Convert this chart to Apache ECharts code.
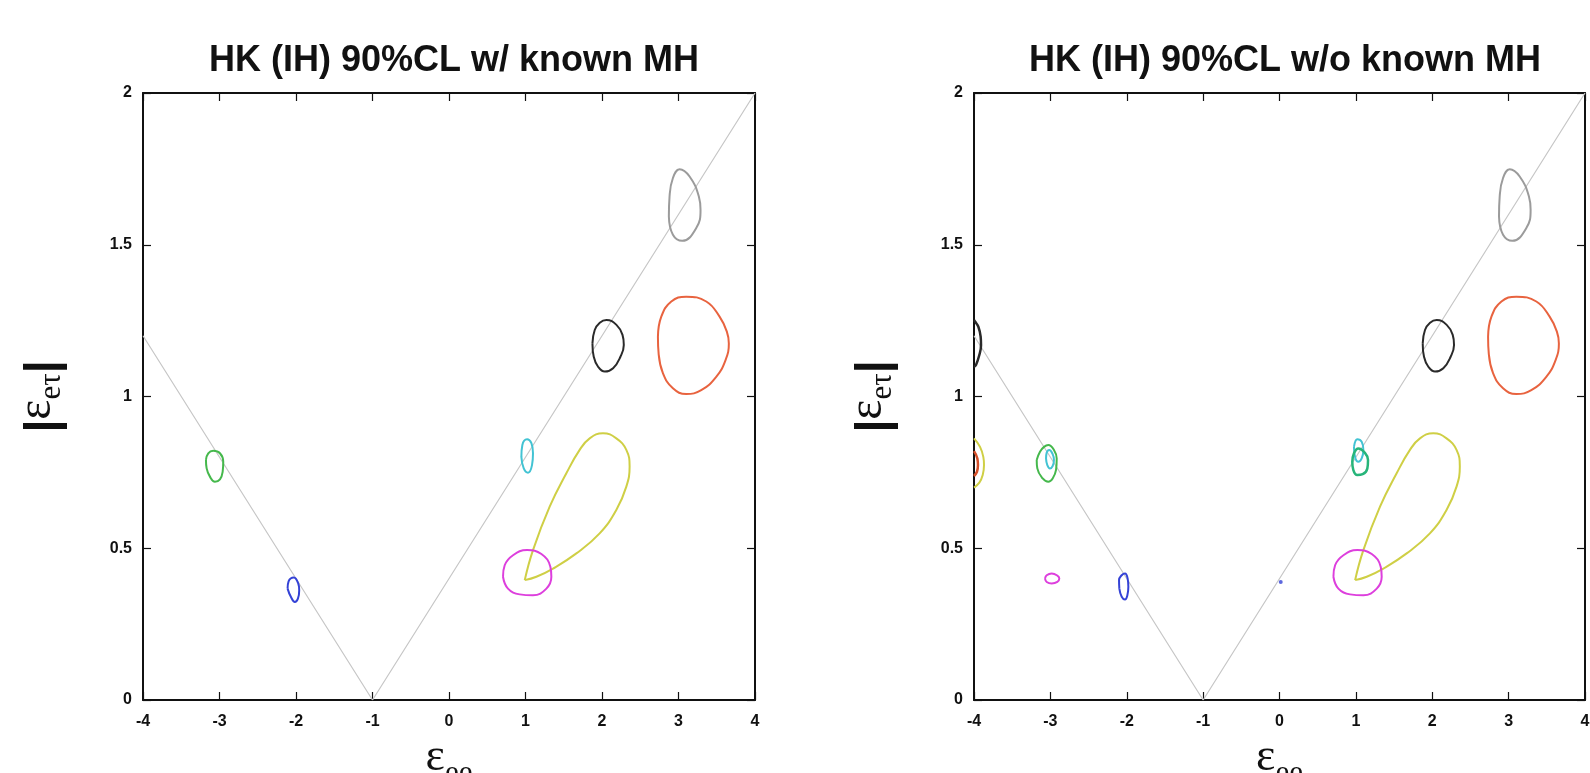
<!DOCTYPE html>
<html>
<head>
<meta charset="utf-8">
<script src="https://cdn.jsdelivr.net/npm/echarts@6/dist/echarts.min.js"></script>
<style>html,body{margin:0;padding:0;background:#fff;}#c{width:1590px;height:773px;}</style>
</head>
<body>
<div id="c"></div>
<script>
// ---- tick labels ----
const xTicks = [-4, -3, -2, -1, 0, 1, 2, 3, 4];
const yTicks = [0, 0.5, 1, 1.5, 2];
const titles = ['HK (IH) 90%CL w/ known MH', 'HK (IH) 90%CL w/o known MH'];

// ---- guide line |e_et| = 0.4|e_ee+1| ----
const vLine = [[-4, 1.2], [-1, 0], [4, 2]];

// ---- contours (both panels) ----
const grayC = [[2.874,1.593],[2.883,1.659],[2.927,1.720],[3.014,1.749],[3.145,1.725],[3.266,1.659],[3.288,1.615],[3.232,1.555],[3.049,1.513],[2.927,1.533]];
const redC = [[2.731,1.197],[2.775,1.263],[2.906,1.313],[3.101,1.329],[3.363,1.313],[3.537,1.263],[3.632,1.214],[3.658,1.175],[3.615,1.120],[3.493,1.065],[3.297,1.021],[3.101,1.008],[2.927,1.027],[2.796,1.077],[2.740,1.142]];
const blackC = [[1.875,1.175],[1.905,1.219],[1.971,1.243],[2.058,1.252],[2.189,1.236],[2.268,1.203],[2.285,1.170],[2.241,1.131],[2.145,1.093],[2.036,1.082],[1.949,1.098],[1.892,1.131]];
const yellowC = [[0.99,0.395],[1.098,0.494],[1.316,0.637],[1.534,0.747],[1.708,0.824],[1.839,0.862],[2.013,0.879],[2.187,0.862],[2.318,0.824],[2.361,0.769],[2.318,0.703],[2.187,0.626],[1.969,0.549],[1.665,0.483],[1.36,0.433],[1.142,0.406]];
const magentaC = [[0.706,0.406],[0.728,0.444],[0.837,0.477],[1.020,0.494],[1.208,0.481],[1.325,0.439],[1.338,0.406],[1.273,0.367],[1.098,0.345],[0.924,0.348],[0.771,0.367]];
// left panel only
const cyanL = [[0.946,0.801],[0.959,0.840],[1.020,0.859],[1.077,0.846],[1.098,0.813],[1.085,0.774],[1.033,0.749],[0.977,0.763]];
const greenL = [[-3.177,0.791],[-3.147,0.813],[-3.082,0.821],[-2.994,0.813],[-2.951,0.785],[-2.959,0.752],[-2.994,0.727],[-3.060,0.719],[-3.125,0.736],[-3.168,0.763]];
const blueL = [[-2.110,0.367],[-2.097,0.391],[-2.028,0.404],[-1.971,0.384],[-1.958,0.362],[-1.975,0.334],[-2.015,0.323],[-2.067,0.340]];
// right panel only
const greenR = [[-3.179,0.791],[-3.136,0.818],[-3.083,0.834],[-3.027,0.840],[-2.953,0.824],[-2.917,0.796],[-2.926,0.758],[-2.970,0.730],[-3.027,0.719],[-3.101,0.730],[-3.171,0.763]];
const cyanR1 = [[-3.057,0.796],[-3.048,0.815],[-3.014,0.824],[-2.970,0.810],[-2.953,0.791],[-2.970,0.771],[-3.005,0.763],[-3.040,0.774]];
const magentaR1 = [[-3.070,0.400],[-3.048,0.411],[-2.983,0.417],[-2.909,0.410],[-2.883,0.400],[-2.909,0.389],[-2.983,0.384],[-3.048,0.389]];
const blueR = [[-2.097,0.367],[-2.101,0.395],[-2.066,0.411],[-2.023,0.417],[-1.988,0.400],[-1.979,0.373],[-1.992,0.345],[-2.023,0.331],[-2.066,0.340]];
const blackEdgeR = [[-4,1.252],[-3.987,1.247],[-3.943,1.230],[-3.913,1.197],[-3.908,1.170],[-3.930,1.137],[-3.974,1.104],[-4,1.098]];
const yellowEdgeR = [[-4,0.862],[-3.921,0.834],[-3.878,0.801],[-3.869,0.774],[-3.886,0.741],[-3.930,0.716],[-4,0.700]];
const redEdgeR = [[-4,0.820],[-3.956,0.796],[-3.948,0.774],[-3.961,0.752],[-4,0.738]];
const cyanR2 = [[0.975,0.834],[1.019,0.859],[1.076,0.851],[1.098,0.824],[1.076,0.796],[1.032,0.785],[0.989,0.801]];
const tealR2 = [[0.953,0.785],[0.975,0.813],[1.032,0.829],[1.106,0.818],[1.159,0.791],[1.150,0.763],[1.089,0.744],[1.019,0.741],[0.966,0.758]];
const blueDotR = [[0.016, 0.389]];

const COL = {gray:'#9b9b9b', red:'#e8633f', black:'#2a2a2a', yellow:'#cfcf45', magenta:'#dd3fdd', cyan:'#42c3d3', green:'#45b84c', blue:'#3442d6', teal:'#27b57a', guide:'#c6c6c6'};

const FONT = 'Liberation Sans, Arial, Helvetica, sans-serif';
const SERIF = 'Liberation Serif, DejaVu Serif, serif';

function closed(a){ return a.concat([a[0]]); }

const grids = [
  {left:143, top:93, width:612, height:607, containLabel:false, outerBoundsMode:'none'},
  {left:974, top:93, width:611, height:607, containLabel:false, outerBoundsMode:'none'}
];

const xAxes = [], yAxes = [];
grids.forEach((g, gi) => {
  ['bottom','top'].forEach((pos) => {
    xAxes.push({
      type:'value', gridIndex:gi, position:pos,
      min:xTicks[0], max:xTicks[xTicks.length-1], interval:1,
      axisLine:{show:true, onZero:false, lineStyle:{color:'#111', width:2}},
      axisTick:{show:true, inside:true, length:8, lineStyle:{color:'#111', width:1.2}},
      axisLabel:{show:pos==='bottom', color:'#111', fontFamily:FONT, fontWeight:'bold', fontSize:16, margin:14, showMinLabel:true, showMaxLabel:true, hideOverlap:false},
      splitLine:{show:false},
      name: pos==='bottom' ? '{a|ε}{b|ee}' : '',
      nameLocation:'middle', nameGap:35,
      nameTextStyle:{rich:{
        a:{fontFamily:SERIF, fontSize:46, color:'#111', verticalAlign:'bottom', padding:[0,0,8,0]},
        b:{fontFamily:SERIF, fontSize:31, color:'#111', verticalAlign:'bottom'}
      }}
    });
  });
  ['left','right'].forEach((pos) => {
    yAxes.push({
      type:'value', gridIndex:gi, position:pos,
      min:yTicks[0], max:yTicks[yTicks.length-1], interval:0.5,
      axisLine:{show:true, onZero:false, lineStyle:{color:'#111', width:2}},
      axisTick:{show:true, inside:true, length:8, lineStyle:{color:'#111', width:1.2}},
      axisLabel:{show:pos==='left', color:'#111', fontFamily:FONT, fontWeight:'bold', fontSize:16, margin:11, showMinLabel:true, showMaxLabel:true, hideOverlap:false},
      splitLine:{show:false},
      name: pos==='left' ? '{p||}{a|ε}{b|eτ}{p||}' : '',
      nameLocation:'middle', nameGap:76,
      nameTextStyle:{rich:{
        p:{fontFamily:FONT, fontSize:46, fontWeight:'bold', color:'#111', verticalAlign:'bottom'},
        a:{fontFamily:SERIF, fontSize:48, color:'#111', verticalAlign:'bottom', padding:[0,0,6,0]},
        b:{fontFamily:SERIF, fontSize:31, color:'#111', verticalAlign:'bottom'}
      }}
    });
  });
});

const series = [];
function contour(data, color, gi, isClosed, w){
  series.push({
    type:'line', xAxisIndex:gi*2, yAxisIndex:gi*2,
    data: isClosed ? closed(data) : data,
    smooth:0.45, symbol:'none', clip:true, silent:true,
    lineStyle:{color:color, width:w||2}, z:3
  });
}
[0,1].forEach(gi => {
  series.push({type:'line', xAxisIndex:gi*2, yAxisIndex:gi*2, data:vLine, symbol:'none', clip:true, silent:true, lineStyle:{color:COL.guide, width:1.2}, z:2});
  contour(grayC, COL.gray, gi, true);
  contour(redC, COL.red, gi, true);
  contour(blackC, COL.black, gi, true);
  contour(yellowC, COL.yellow, gi, true);
  contour(magentaC, COL.magenta, gi, true);
});
contour(cyanL, COL.cyan, 0, true);
contour(greenL, COL.green, 0, true);
contour(blueL, COL.blue, 0, true);
contour(greenR, COL.green, 1, true);
contour(cyanR1, COL.cyan, 1, true);
contour(magentaR1, COL.magenta, 1, true);
contour(blueR, COL.blue, 1, true);
contour(blackEdgeR, COL.black, 1, false, 2.5);
contour(yellowEdgeR, COL.yellow, 1, false);
contour(redEdgeR, '#d4502a', 1, false, 2.5);
contour(cyanR2, COL.cyan, 1, true);
contour(tealR2, COL.teal, 1, true, 2.5);
series.push({type:'scatter', xAxisIndex:2, yAxisIndex:2, data:blueDotR, symbolSize:4, itemStyle:{color:COL.blue}, silent:true, z:4});

const chart = echarts.init(document.getElementById('c'), null, {renderer:'canvas'});
chart.setOption({
  animation:false,
  backgroundColor:'#fff',
  title: titles.map((t, i) => ({
    text:t, left: i===0 ? 449 : 1280, top:38, textAlign:'center',
    textStyle:{fontFamily:FONT, fontWeight:'bold', fontSize:36, color:'#111'}
  })),
  grid: grids,
  xAxis: xAxes,
  yAxis: yAxes,
  series: series
});
</script>
</body>
</html>
